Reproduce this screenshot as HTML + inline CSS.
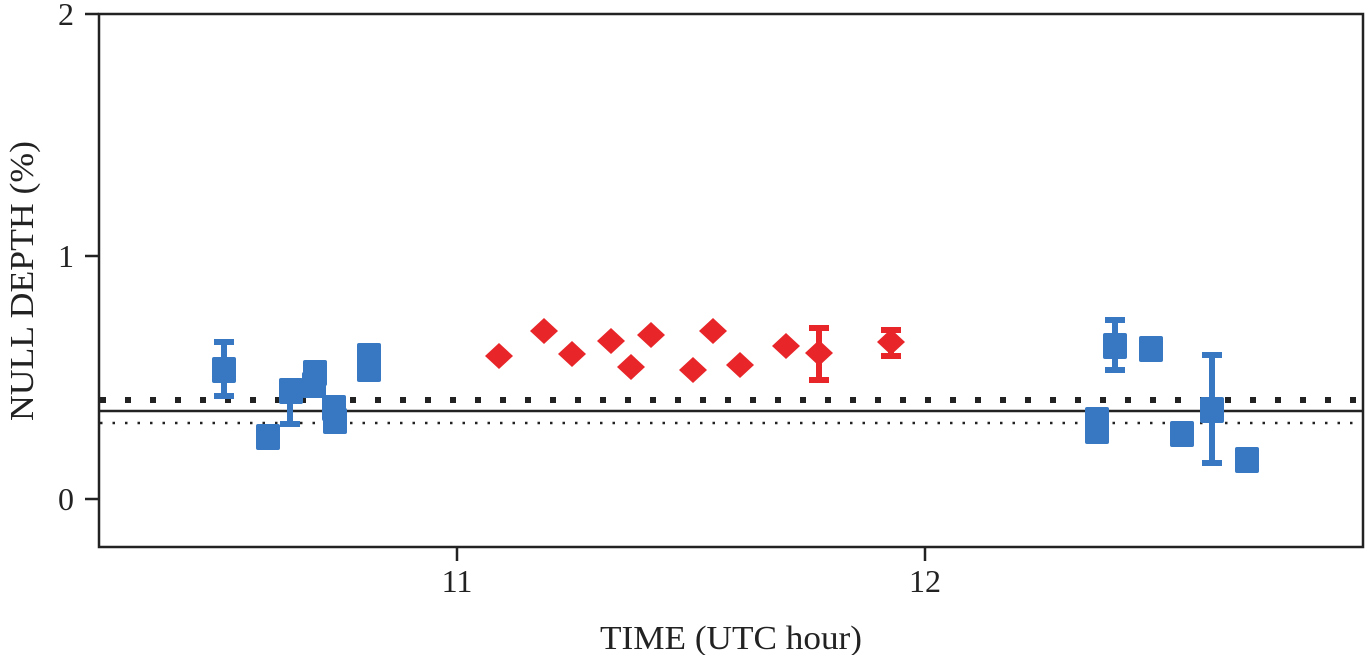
<!DOCTYPE html>
<html><head><meta charset="utf-8"><style>
html,body{margin:0;padding:0;background:#fff;}
</style></head><body>
<svg width="1367" height="655" xmlns="http://www.w3.org/2000/svg" font-family="Liberation Serif, serif">
<rect x="0" y="0" width="1367" height="655" fill="#fff"/>
<line x1="100" y1="400" x2="1362" y2="400" stroke="#222" stroke-width="6" stroke-dasharray="6,19"/>
<line x1="100" y1="411" x2="1362" y2="411" stroke="#222" stroke-width="2.5"/>
<line x1="100" y1="423" x2="1362" y2="423" stroke="#222" stroke-width="2.5" stroke-dasharray="2.5,10"/>
<g fill="#3878c2" stroke="#3878c2">
<g stroke-width="6">
<line x1="224" y1="342" x2="224" y2="396"/><line x1="214" y1="342" x2="234" y2="342"/><line x1="214" y1="396" x2="234" y2="396"/>
<line x1="290" y1="384" x2="290" y2="424"/><line x1="280" y1="384" x2="300" y2="384"/><line x1="280" y1="424" x2="300" y2="424"/>
<line x1="1115" y1="320" x2="1115" y2="370"/><line x1="1105" y1="320" x2="1125" y2="320"/><line x1="1105" y1="370" x2="1125" y2="370"/>
<line x1="1212" y1="355" x2="1212" y2="463"/><line x1="1202" y1="355" x2="1222" y2="355"/><line x1="1202" y1="463" x2="1222" y2="463"/>
</g>
<g stroke="none">
<rect x="212" y="357" width="24" height="26" rx="2"/>
<rect x="256" y="424" width="24" height="26" rx="2"/>
<rect x="279" y="378" width="24" height="26" rx="2"/>
<rect x="303" y="360" width="24" height="26" rx="2"/>
<rect x="302" y="372" width="24" height="26" rx="2"/>
<rect x="322" y="395" width="24" height="26" rx="2"/>
<rect x="323" y="408" width="24" height="26" rx="2"/>
<rect x="357" y="343" width="24" height="26" rx="2"/>
<rect x="357" y="356" width="24" height="26" rx="2"/>
<rect x="1085" y="407" width="24" height="26" rx="2"/>
<rect x="1085" y="418" width="24" height="26" rx="2"/>
<rect x="1103" y="333" width="24" height="26" rx="2"/>
<rect x="1139" y="336" width="24" height="26" rx="2"/>
<rect x="1170" y="421" width="24" height="26" rx="2"/>
<rect x="1200" y="397" width="24" height="26" rx="2"/>
<rect x="1235" y="447" width="24" height="26" rx="2"/>
</g>
</g>
<g fill="#e8262a" stroke="#e8262a">
<g stroke-width="6">
<line x1="819" y1="328" x2="819" y2="380"/><line x1="809" y1="328" x2="829" y2="328"/><line x1="809" y1="380" x2="829" y2="380"/>
<line x1="891" y1="330" x2="891" y2="356"/><line x1="881" y1="330" x2="901" y2="330"/><line x1="881" y1="356" x2="901" y2="356"/>
</g>
<g stroke="none">
<path d="M499 343l14 13-14 13-14-13z"/>
<path d="M544 318l14 13-14 13-14-13z"/>
<path d="M572 341l14 13-14 13-14-13z"/>
<path d="M611 328l14 13-14 13-14-13z"/>
<path d="M631 354l14 13-14 13-14-13z"/>
<path d="M651 322l14 13-14 13-14-13z"/>
<path d="M693 357l14 13-14 13-14-13z"/>
<path d="M713 318l14 13-14 13-14-13z"/>
<path d="M740 352l14 13-14 13-14-13z"/>
<path d="M786 333l14 13-14 13-14-13z"/>
<path d="M819 340l14 13-14 13-14-13z"/>
<path d="M891 329l14 13-14 13-14-13z"/>
</g>
</g>
<rect x="99" y="14" width="1264" height="533" fill="none" stroke="#222" stroke-width="2.5"/>
<g stroke="#222" stroke-width="2.5">
<line x1="85" y1="14" x2="99" y2="14"/><line x1="85" y1="256" x2="99" y2="256"/><line x1="85" y1="499" x2="99" y2="499"/>
<line x1="457" y1="547" x2="457" y2="561"/><line x1="925" y1="547" x2="925" y2="561"/>
</g>
<g font-size="32" fill="#222">
<text x="74" y="25" text-anchor="end">2</text>
<text x="74" y="267" text-anchor="end">1</text>
<text x="74" y="510" text-anchor="end">0</text>
<text x="457" y="592" text-anchor="middle">11</text>
<text x="925" y="592" text-anchor="middle">12</text>
<text x="731" y="649" text-anchor="middle" font-size="34" textLength="262" lengthAdjust="spacingAndGlyphs">TIME (UTC hour)</text>
<text transform="translate(33,281) rotate(-90)" text-anchor="middle" font-size="34" textLength="280" lengthAdjust="spacingAndGlyphs">NULL DEPTH (%)</text>
</g>
</svg>
</body></html>
